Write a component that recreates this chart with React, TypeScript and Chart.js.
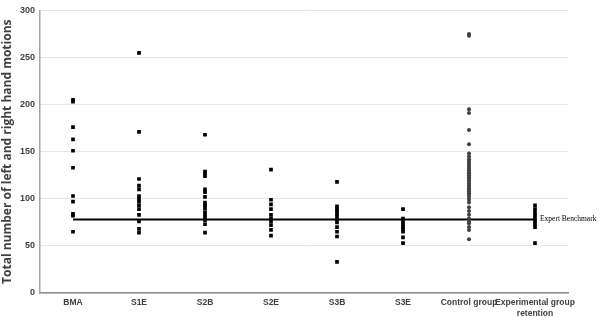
import React, { useEffect, useRef } from "react";
import { Chart, registerables } from "chart.js";

Chart.register(...registerables);

const categories: (string | string[])[] = [
  "BMA",
  "S1E",
  "S2B",
  "S2E",
  "S3B",
  "S3E",
  "Control group",
  ["Experimental group", "retention"],
];

const bmaValues = [205, 203, 176, 163, 151, 133, 103, 97, 84, 82, 65];
const s1eValues = [255, 171, 121, 114, 110, 103, 100, 97, 93, 89, 83, 76, 68, 64];
const s2bValues = [168, 129, 127, 124, 110, 107, 102, 96, 93, 90, 86, 83, 80, 77, 73, 64];
const s2eValues = [131, 99, 94, 89, 83, 79, 76, 72, 67, 61];
const s3bValues = [118, 92, 89, 87, 84, 81, 78, 75, 70, 65, 60, 33];
const s3eValues = [89, 79, 76, 73, 70, 68, 65, 59, 53];
const controlValues = [
  275, 273, 195, 191, 173, 158, 148, 145, 142, 140, 138, 136, 134, 132, 130, 128,
  127, 125, 123, 121, 120, 118, 116, 115, 113, 111, 110, 108, 106, 104, 102, 99,
  96, 91, 87, 83, 79, 76, 74, 70, 67, 57,
];
const retentionValues = [93, 89, 85, 82, 79, 76, 73, 70, 53];

const benchmarkValue = 78;
const benchmarkLabel = "Expert Benchmark";
const yAxisTitle = "Total number of left and right hand motions";
const yTicks = [0, 50, 100, 150, 200, 250, 300];

const squareGroups = [bmaValues, s1eValues, s2bValues, s2eValues, s3bValues, s3eValues];

export default function App() {
  const canvasRef = useRef<HTMLCanvasElement | null>(null);

  useEffect(() => {
    const canvas = canvasRef.current;
    if (!canvas) return;

    const datasets: any[] = [];
    squareGroups.forEach((vals, i) => {
      datasets.push({
        type: "scatter",
        data: vals.map((v) => ({ x: i, y: v })),
        pointStyle: "rect",
        pointRadius: 2.6,
        backgroundColor: "#000000",
        borderColor: "#000000",
        borderWidth: 0,
        showLine: false,
      });
    });
    datasets.push({
      type: "scatter",
      data: controlValues.map((v) => ({ x: 6, y: v })),
      pointStyle: "circle",
      pointRadius: 2,
      backgroundColor: "#404040",
      borderColor: "#404040",
      borderWidth: 0,
      showLine: false,
    });
    datasets.push({
      type: "scatter",
      data: retentionValues.map((v) => ({ x: 7, y: v })),
      pointStyle: "rect",
      pointRadius: 2.6,
      backgroundColor: "#000000",
      borderColor: "#000000",
      borderWidth: 0,
      showLine: false,
    });
    datasets.push({
      type: "scatter",
      data: [
        { x: 0, y: benchmarkValue },
        { x: categories.length - 1, y: benchmarkValue },
      ],
      showLine: true,
      borderColor: "#000000",
      borderWidth: 2,
      pointRadius: 0,
      fill: false,
    });

    const benchPlugin = {
      id: "benchLabel",
      afterDatasetsDraw(chart: any) {
        const idx = chart.data.datasets.length - 1;
        const meta = chart.getDatasetMeta(idx);
        const pt = meta.data[meta.data.length - 1];
        if (!pt) return;
        const ctx = chart.ctx;
        ctx.save();
        ctx.font = '7.5px "Liberation Serif"';
        ctx.fillStyle = "#000000";
        ctx.textAlign = "left";
        ctx.textBaseline = "middle";
        ctx.fillText(benchmarkLabel, pt.x + 5, pt.y);
        ctx.restore();
      },
    };

    const chart = new Chart(canvas, {
      type: "scatter",
      data: { datasets },
      options: {
        animation: false,
        responsive: false,
        maintainAspectRatio: false,
        layout: { padding: { left: 0, right: 32, top: 4, bottom: 0 } },
        plugins: {
          legend: { display: false },
          tooltip: { enabled: false },
        },
        scales: {
          x: {
            type: "linear",
            min: -0.5,
            max: categories.length - 0.5,
            afterBuildTicks(scale: any) {
              scale.ticks = categories.map((_, i) => ({ value: i }));
            },
            grid: { display: false, drawTicks: false },
            border: { display: true, color: "#8c8c8c", width: 1.5 },
            ticks: {
              color: "#404040",
              font: { family: "Liberation Sans", size: 8.5, weight: "bold" },
              padding: 5,
              maxRotation: 0,
              autoSkip: false,
              callback: (value: any) => categories[Math.round(Number(value))] as any,
            },
            afterFit(scale: any) {
              scale.height = 24;
            },
          },
          y: {
            type: "linear",
            min: 0,
            max: 300,
            afterBuildTicks(scale: any) {
              scale.ticks = yTicks.map((v) => ({ value: v }));
            },
            grid: { color: "#e6e6e6", lineWidth: 1, drawTicks: false },
            border: { display: true, color: "#a6a6a6", width: 1.5 },
            ticks: {
              color: "#404040",
              font: { family: "Liberation Sans", size: 9, weight: "bold" },
              padding: 5,
            },
            title: {
              display: true,
              text: yAxisTitle,
              color: "#404040",
              font: { family: "Open Sans", size: 12, weight: "bold" },
              padding: 0,
            },
            afterFit(scale: any) {
              scale.width = 40;
            },
          },
        },
      },
      plugins: [benchPlugin],
    });

    return () => chart.destroy();
  }, []);

  return (
    <div style={{ position: "fixed", left: 0, top: 0, width: 600, height: 317, background: "#ffffff" }}>
      <canvas ref={canvasRef} width={600} height={317} style={{ display: "block" }} />
    </div>
  );
}
